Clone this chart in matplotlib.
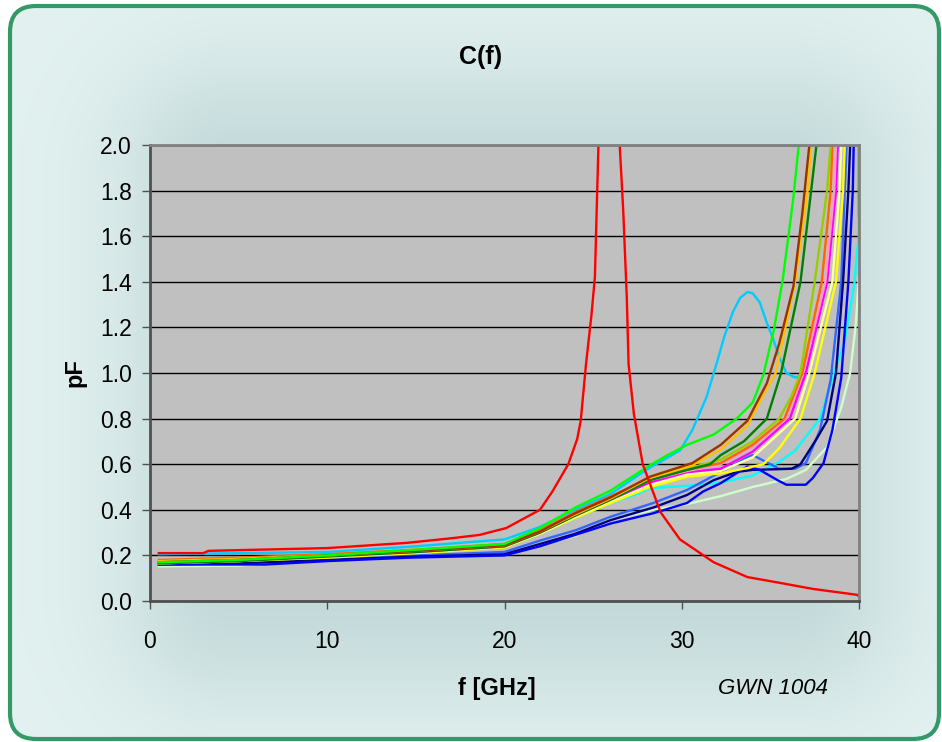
import numpy as np
import matplotlib
matplotlib.use("Agg")
import matplotlib.pyplot as plt
from matplotlib.patches import FancyBboxPatch

plt.rcParams['font.family'] = ['Liberation Sans', 'DejaVu Sans']

# ---------------- data (f in GHz, C in pF) ----------------
f_red = [0.5, 3.0, 3.3, 10, 14.5, 17.1, 18.6, 20.1, 22.0, 22.7, 23.6, 24.1, 24.3, 24.6, 24.9, 25.1, 25.2, 25.3, 25.45,
         26.4, 26.5, 26.7, 26.9, 27.0, 27.3, 27.8, 28.8, 29.9, 31.8, 33.7, 35.5, 37.4, 39.9, 40]
c_red = [0.21, 0.21, 0.22, 0.232, 0.255, 0.276, 0.29, 0.32, 0.40, 0.48, 0.60, 0.71, 0.79, 1.04, 1.25, 1.42, 1.71, 2.0, 2.6,
         2.6, 2.0, 1.71, 1.33, 1.04, 0.82, 0.60, 0.39, 0.27, 0.17, 0.105, 0.08, 0.053, 0.027, 0.02]

f_green = [0.5, 5, 10, 15, 20, 22, 24, 26, 28.2, 29.2, 30.3, 31.8, 33.1, 34.0, 34.6, 35.2, 35.7, 36.3, 36.6, 37.0, 39.97, 40]
c_green = [0.17, 0.18, 0.20, 0.225, 0.25, 0.32, 0.41, 0.485, 0.595, 0.64, 0.685, 0.73, 0.80, 0.87, 0.99, 1.19, 1.41, 1.77, 2.0, 2.6, 60, 1.58]

f_brown = [0.5, 5, 10, 15, 20, 22, 24, 26, 28.2, 30.6, 32.2, 33.7, 34.8, 35.5, 36.3, 36.8, 37.2, 37.5, 39.97, 40]
c_brown = [0.17, 0.18, 0.20, 0.22, 0.245, 0.305, 0.385, 0.455, 0.545, 0.605, 0.685, 0.79, 0.955, 1.13, 1.38, 1.70, 2.0, 2.8, 60, 1.69]

f_gold = [0.5, 5, 10, 15, 20, 22, 24, 26, 28.2, 30.6, 32.2, 33.7, 34.8, 35.3, 36.4, 37.1, 37.3, 37.6, 39.97, 40]
c_gold = [0.175, 0.185, 0.20, 0.22, 0.245, 0.305, 0.38, 0.45, 0.54, 0.595, 0.665, 0.77, 0.93, 1.0, 1.4, 1.8, 2.0, 2.8, 60, 1.85]

f_dkgreen = [0.5, 5, 10, 15, 20, 22, 24, 26, 28.2, 30.3, 31.6, 32.2, 33.5, 34.8, 35.6, 36.7, 37.3, 37.6, 38.0]
c_dkgreen = [0.165, 0.175, 0.195, 0.215, 0.24, 0.30, 0.375, 0.445, 0.53, 0.575, 0.60, 0.64, 0.70, 0.80, 1.0, 1.4, 1.8, 2.0, 2.8]

f_olive = [0.5, 5, 10, 15, 20, 22, 24, 26, 28.2, 30.3, 32.2, 34.0, 35.5, 36.2, 36.7, 37.5, 38.2, 38.4, 38.6]
c_olive = [0.17, 0.18, 0.20, 0.22, 0.245, 0.305, 0.38, 0.45, 0.535, 0.58, 0.62, 0.70, 0.80, 0.90, 1.0, 1.4, 1.8, 2.0, 2.8]

f_orange = [0.5, 5, 10, 15, 20, 22, 24, 26, 28.2, 30.3, 32.2, 34.0, 35.8, 36.8, 37.9, 38.4, 38.5, 38.7]
c_orange = [0.18, 0.19, 0.205, 0.225, 0.25, 0.31, 0.39, 0.46, 0.535, 0.575, 0.605, 0.685, 0.80, 1.0, 1.4, 1.8, 2.0, 2.8]

f_pink = [0.5, 5, 10, 15, 20, 22, 24, 26, 28.2, 30.3, 32.2, 34.0, 35.9, 36.85, 38.1, 38.6, 38.7, 38.9]
c_pink = [0.175, 0.185, 0.20, 0.22, 0.245, 0.305, 0.385, 0.455, 0.53, 0.57, 0.60, 0.675, 0.80, 1.0, 1.4, 1.8, 2.0, 2.8]

f_magenta = [0.5, 5, 10, 15, 20, 22, 24, 26, 28.2, 30.3, 32.2, 34.0, 36.1, 37.0, 38.2, 38.7, 38.8, 39.0]
c_magenta = [0.17, 0.18, 0.20, 0.215, 0.24, 0.30, 0.375, 0.445, 0.52, 0.565, 0.58, 0.655, 0.80, 1.0, 1.4, 1.8, 2.0, 2.8]

f_ltyellow = [0.5, 5, 10, 15, 20, 22, 24, 26, 28.2, 30.3, 32.2, 34.0, 36.4, 37.2, 38.5, 38.9, 39.0, 39.2]
c_ltyellow = [0.165, 0.175, 0.195, 0.215, 0.24, 0.295, 0.37, 0.44, 0.51, 0.555, 0.57, 0.63, 0.80, 1.0, 1.4, 1.8, 2.0, 2.8]

f_yellow = [0.5, 5, 10, 15, 20, 22, 24, 26, 28.2, 30.3, 32.2, 33.5, 34.6, 35.5, 36.7, 37.5, 38.7, 39.1, 39.2, 39.4]
c_yellow = [0.165, 0.175, 0.19, 0.21, 0.235, 0.295, 0.365, 0.43, 0.50, 0.545, 0.56, 0.58, 0.60, 0.67, 0.80, 1.0, 1.4, 1.8, 2.0, 2.8]

f_skyblue = [0.5, 5, 10, 15, 20, 22, 24, 26, 28.0, 29.9, 30.6, 31.4, 32.0, 32.4, 32.9, 33.3, 33.7, 34.0, 34.4, 34.8,
             35.2, 35.5, 35.9, 36.4, 36.6]
c_skyblue = [0.205, 0.21, 0.215, 0.24, 0.27, 0.325, 0.40, 0.47, 0.575, 0.66, 0.75, 0.895, 1.05, 1.16, 1.27, 1.33, 1.355, 1.35, 1.31, 1.22,
             1.14, 1.07, 1.0, 0.98, 0.985]

f_aqua = [0.5, 5, 10, 15, 20, 22, 24, 26, 27.5, 28.2, 30.3, 32.2, 34.0, 35.5, 36.4, 37.0, 37.8, 38.6, 39.2, 39.75, 39.9, 40]
c_aqua = [0.17, 0.18, 0.20, 0.22, 0.245, 0.30, 0.365, 0.43, 0.47, 0.495, 0.505, 0.52, 0.55, 0.61, 0.66, 0.72, 0.80, 1.0, 1.14, 1.4, 1.54, 1.6]

f_royal = [0.5, 5, 10, 15, 20, 22, 24, 26, 28.4, 30.3, 32.2, 33.7, 34.0, 34.5, 35.5, 36.4, 37.0, 37.8, 38.4, 39.0, 39.2, 39.3, 39.5]
c_royal = [0.165, 0.17, 0.185, 0.20, 0.215, 0.265, 0.31, 0.37, 0.43, 0.487, 0.566, 0.63, 0.64, 0.62, 0.58, 0.58, 0.605, 0.75, 0.97, 1.4, 1.8, 2.0, 2.8]

f_navy = [0.5, 5, 10, 15, 20, 22, 24, 26, 28.4, 30.3, 31.8, 33.1, 34.0, 36.2, 36.7, 37.6, 38.2, 38.7, 39.1, 39.4, 39.5, 39.7]
c_navy = [0.16, 0.165, 0.18, 0.195, 0.205, 0.25, 0.295, 0.355, 0.41, 0.465, 0.53, 0.566, 0.575, 0.58, 0.60, 0.71, 0.79, 1.0, 1.4, 1.8, 2.0, 2.8]

f_blue = [0.5, 6.5, 10, 14.6, 20, 22, 24, 26, 28.4, 30.3, 31.2, 32.2, 33.7, 34.4, 35.4, 35.9, 37.0, 37.4, 38.0, 38.5, 39.0,
          39.4, 39.65, 39.7, 39.85]
c_blue = [0.16, 0.16, 0.175, 0.19, 0.20, 0.24, 0.29, 0.34, 0.385, 0.43, 0.48, 0.517, 0.59, 0.575, 0.53, 0.51, 0.51, 0.54, 0.605, 0.75, 0.98,
          1.4, 1.8, 2.0, 2.8]

f_palegreen = [0.5, 5, 10, 15, 20, 22, 24, 26, 28.4, 30.3, 32.2, 34.0, 35.9, 37.0, 38.2, 39.0, 39.5, 39.8, 40.0]
c_palegreen = [0.152, 0.155, 0.185, 0.20, 0.205, 0.245, 0.285, 0.355, 0.40, 0.425, 0.46, 0.50, 0.535, 0.575, 0.675, 0.85, 1.0, 1.2, 1.42]

x_ticks = [0, 10, 20, 30, 40]
y_ticks = [0.0, 0.2, 0.4, 0.6, 0.8, 1.0, 1.2, 1.4, 1.6, 1.8, 2.0]
title_text = "C(f)"
x_label = "f [GHz]"
y_label = "pF"
note_text = "GWN 1004"

series = [
    (f_skyblue, c_skyblue, '#00CCFF'),
    (f_aqua, c_aqua, '#00FFFF'),
    (f_palegreen, c_palegreen, '#CCFFCC'),
    (f_royal, c_royal, '#3366FF'),
    (f_navy, c_navy, '#000080'),
    (f_blue, c_blue, '#0000FF'),
    (f_yellow, c_yellow, '#FFFF00'),
    (f_ltyellow, c_ltyellow, '#FFFF99'),
    (f_magenta, c_magenta, '#FF00FF'),
    (f_pink, c_pink, '#FF99CC'),
    (f_orange, c_orange, '#FF6600'),
    (f_olive, c_olive, '#99CC00'),
    (f_dkgreen, c_dkgreen, '#008000'),
    (f_gold, c_gold, '#FFC000'),
    (f_brown, c_brown, '#993300'),
    (f_green, c_green, '#00FF00'),
    (f_red, c_red, '#FF0000'),
]

# ---------------- figure ----------------
W, H = 942, 742
fig = plt.figure(figsize=(W / 100, H / 100), dpi=100)
fig.patch.set_facecolor('white')

# background with soft shading, clipped to a rounded frame
bg = fig.add_axes([0, 0, 1, 1])
bg.set_xlim(0, W)
bg.set_ylim(H, 0)
bg.axis('off')
yy, xx = np.mgrid[0:H, 0:W]
x0, x1, y0, y1 = 230, 790, 175, 590
dx = np.maximum(np.maximum(x0 - xx, xx - x1), 0)
dy = np.maximum(np.maximum(y0 - yy, yy - y1), 0)
d = np.hypot(dx, dy)
t = np.exp(-(d / 120.0) ** 2)
light = np.array([227, 242, 241]) / 255.0
dark = np.array([196, 218, 218]) / 255.0
img = light + (dark - light) * t[..., None]
im = bg.imshow(img, extent=(0, W, H, 0), aspect='auto', interpolation='bilinear')
frame = FancyBboxPatch((10, 6), 929, 733, boxstyle="round,pad=0,rounding_size=26",
                       transform=bg.transData, facecolor='none', edgecolor='#339966', linewidth=3)
bg.add_patch(frame)
im.set_clip_path(frame)

# main plot area
L, R, T, B = 150, 859, 145, 601
ax = fig.add_axes([L / W, 1 - B / H, (R - L) / W, (B - T) / H])
ax.set_facecolor('#C0C0C0')
for fx, cy, col in series:
    ax.plot(fx, cy, color=col, lw=1.7, solid_joinstyle='round')

ax.set_xlim(0, 40)
ax.set_ylim(0, 2.0)
ax.set_xticks(x_ticks)
ax.set_yticks(y_ticks)
ax.set_yticklabels([f"{v:.1f}" for v in y_ticks])
ax.grid(axis='y', color='black', lw=1.0)
ax.set_axisbelow(True)
for s in ['top', 'right']:
    ax.spines[s].set_color('#808080')
    ax.spines[s].set_linewidth(2)
for s in ['left', 'bottom']:
    ax.spines[s].set_color('#505050')
    ax.spines[s].set_linewidth(2)
ax.tick_params(axis='both', direction='out', length=6, width=1, color='#505050', labelsize=16.5)
ax.tick_params(axis='y', pad=7)
ax.tick_params(axis='x', pad=15)

fig.text(481 / W, 1 - 57 / H, title_text, ha='center', va='center', fontsize=18, fontweight='bold')
fig.text(497 / W, 1 - 688 / H, x_label, ha='center', va='center', fontsize=17, fontweight='bold')
fig.text(75 / W, 1 - 373 / H, y_label, ha='center', va='center', fontsize=17, fontweight='bold', rotation=90)
fig.text(773 / W, 1 - 688 / H, note_text, ha='center', va='center', fontsize=16, style='italic')

fig.savefig('out.png', dpi=100)
